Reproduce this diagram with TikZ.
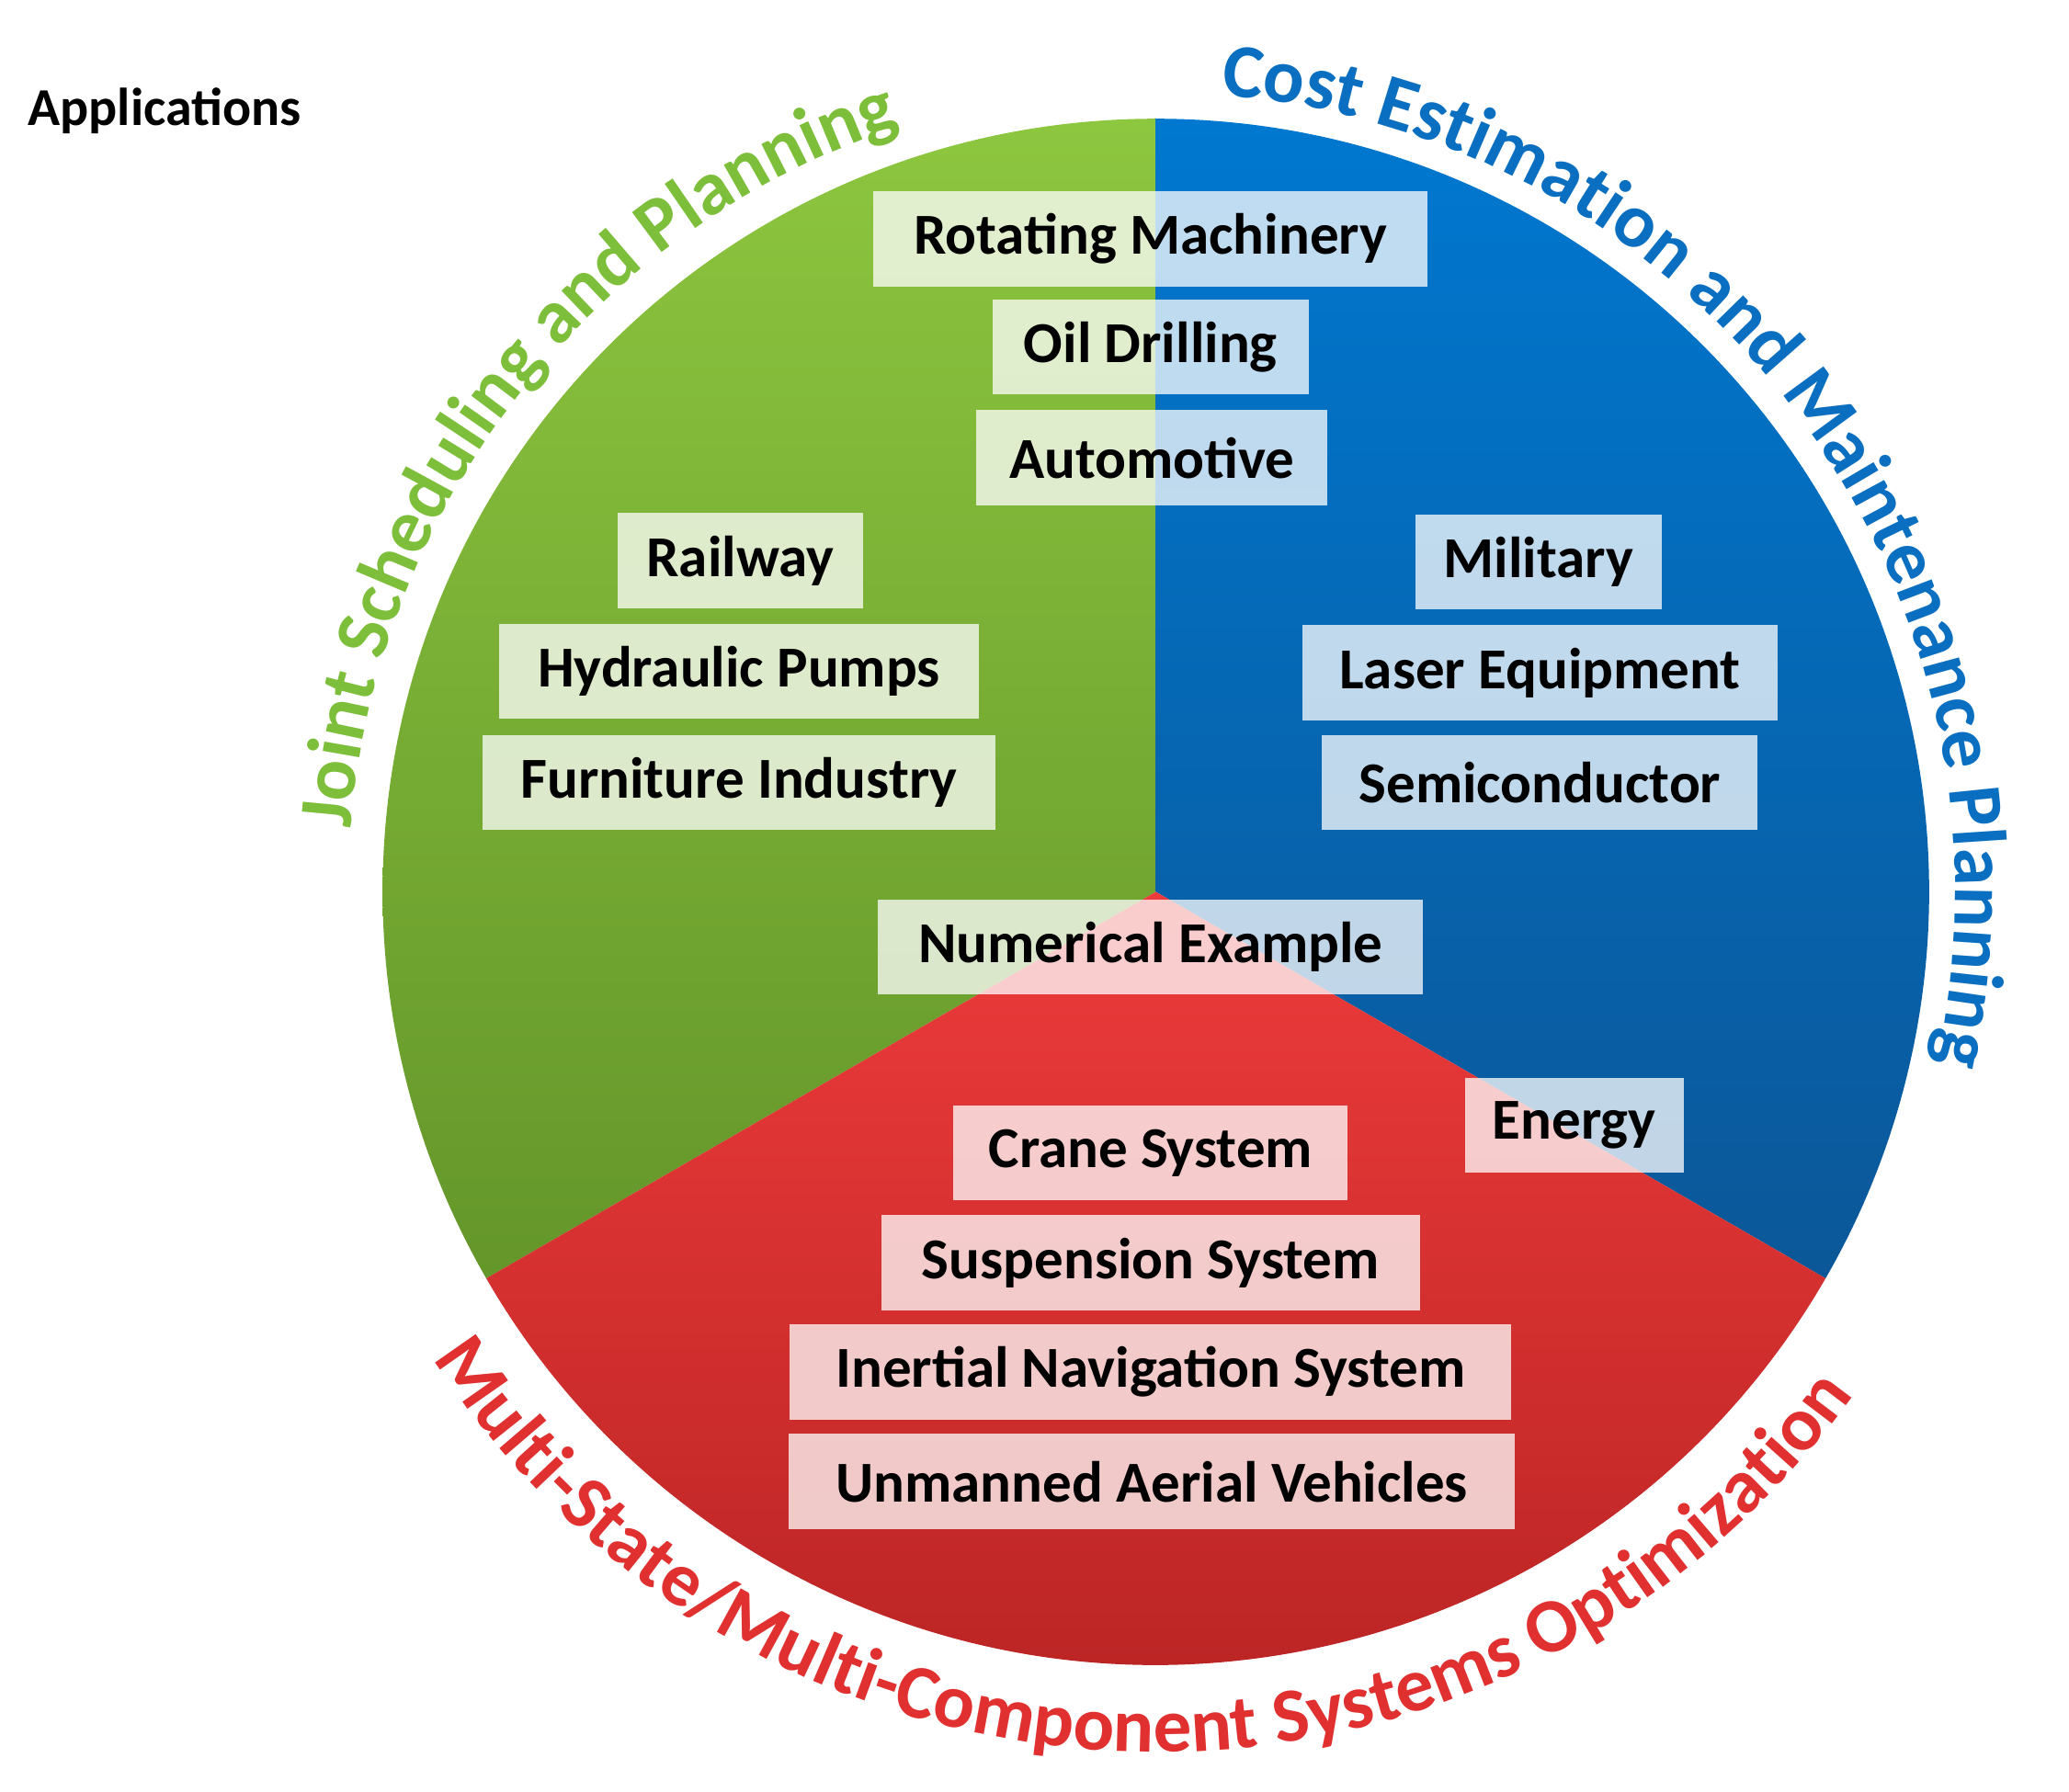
\documentclass[tikz,border=0pt]{standalone}
\usepackage{fontspec}
\setmainfont{Carlito}
\usetikzlibrary{decorations.text}
\definecolor{gT}{HTML}{8DC63F}\definecolor{gB}{HTML}{64962A}
\definecolor{bT}{HTML}{0078D0}\definecolor{bB}{HTML}{0B5798}
\definecolor{rT}{HTML}{EE3B3B}\definecolor{rB}{HTML}{B52222}
\definecolor{gTxt}{HTML}{7DBE3A}\definecolor{bTxt}{HTML}{0A6FC0}\definecolor{rTxt}{HTML}{E03030}
\tikzset{
 app/.style={fill=white,fill opacity=0.75,text opacity=1,minimum height=72*0.02cm,inner sep=0pt,font=\fontsize{25}{25}\selectfont\bfseries},
 arctext/.style={decorate,decoration={text along path,text align=center,text color=#1}}
}
\begin{document}
\begin{tikzpicture}[x=0.02cm,y=-0.02cm]
\useasboundingbox (0,0) rectangle (1568,1358);
\coordinate (c) at (876,676);
\shade[top color=gT,bottom color=gB] (c) -- +(-90:586) arc[start angle=-90,end angle=-210,radius=586] -- cycle;
\shade[top color=bT,bottom color=bB] (c) -- +(-90:586) arc[start angle=-90,end angle=30,radius=586] -- cycle;
\shade[top color=rT,bottom color=rB] (c) -- +(30:586) arc[start angle=30,end angle=150,radius=586] -- cycle;
\path[arctext=gTxt,decoration={text={|\fontsize{33}{33}\selectfont\bfseries|Joint Scheduling and Planning}}] (c) ++(-182:612) arc[start angle=-182,end angle=-102,radius=612];
\path[arctext=bTxt,decoration={text={|\fontsize{33}{33}\selectfont\bfseries|Cost Estimation and Maintenance Planning}}] (c) ++(-88:606) arc[start angle=-88,end angle=15,radius=606];
\path[arctext=rTxt,decoration={text={|\fontsize{33}{33}\selectfont\bfseries|Multi-State/Multi-Component Systems Optimization}}] (c) ++(-206:652) arc[start angle=-206,end angle=-331,radius=652];
\node[anchor=base west,font=\fontsize{23}{23}\selectfont\bfseries] (title) at (15,95) {Applications};
\node[app,minimum width=420*0.02cm] (n1) at (872,181) {Rotating Machinery};
\node[app,minimum width=240*0.02cm] (n2) at (872,263) {Oil Drilling};
\node[app,minimum width=266*0.02cm] (n3) at (873,347) {Automotive};
\node[app,minimum width=186*0.02cm] (n4) at (561,425) {Railway};
\node[app,minimum width=363*0.02cm] (n5) at (560,509) {Hydraulic Pumps};
\node[app,minimum width=389*0.02cm] (n6) at (560,593) {Furniture Industry};
\node[app,minimum width=187*0.02cm] (n7) at (1166,426) {Military};
\node[app,minimum width=360*0.02cm] (n8) at (1167,510) {Laser Equipment};
\node[app,minimum width=330*0.02cm] (n9) at (1167,593) {Semiconductor};
\node[app,minimum width=413*0.02cm] (n10) at (872,718) {Numerical Example};
\node[app,minimum width=166*0.02cm] (n11) at (1193,853) {Energy};
\node[app,minimum width=299*0.02cm] (n12) at (872,874) {Crane System};
\node[app,minimum width=408*0.02cm] (n13) at (872,957) {Suspension System};
\node[app,minimum width=547*0.02cm] (n14) at (872,1040) {Inertial Navigation System};
\node[app,minimum width=550*0.02cm] (n15) at (873,1123) {Unmanned Aerial Vehicles};
\end{tikzpicture}
\end{document}
